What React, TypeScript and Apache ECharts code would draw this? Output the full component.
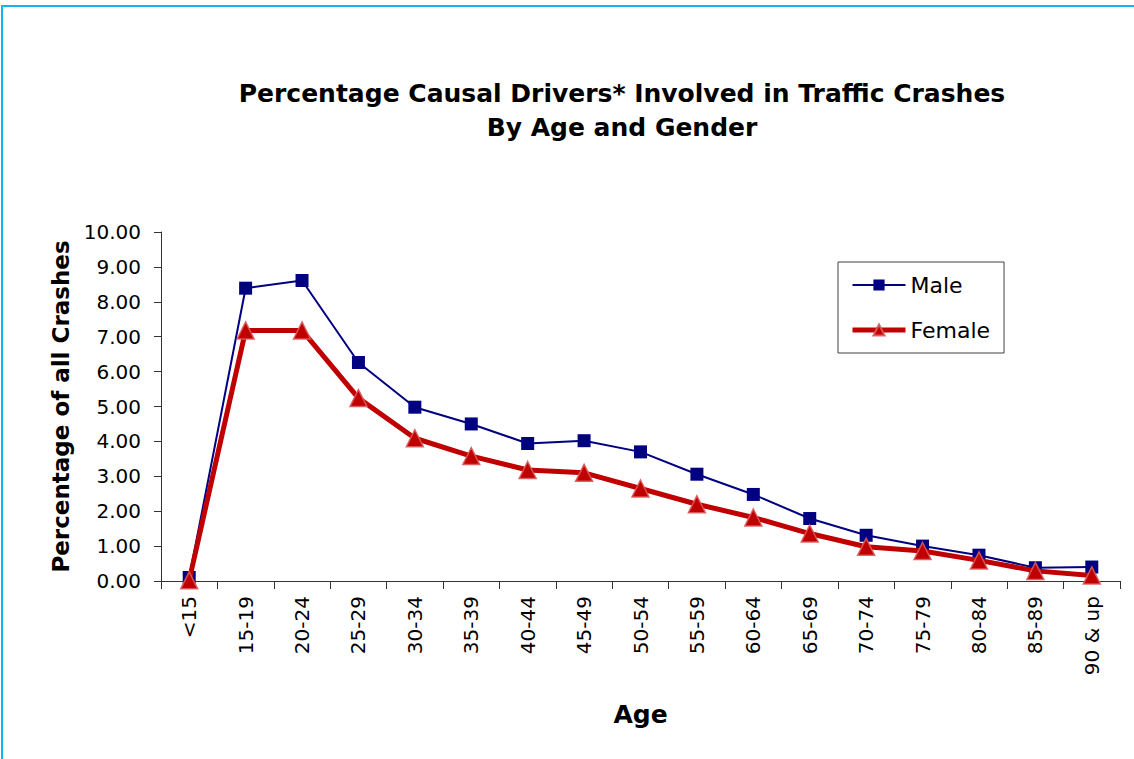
import React, { useEffect, useRef } from "react";
import * as echarts from "echarts";

const ageGroups = ["<15", "15-19", "20-24", "25-29", "30-34", "35-39", "40-44", "45-49", "50-54", "55-59", "60-64", "65-69", "70-74", "75-79", "80-84", "85-89", "90 & up"];
const maleValues = [0.1, 8.39, 8.61, 6.26, 4.98, 4.5, 3.94, 4.02, 3.7, 3.06, 2.48, 1.79, 1.31, 1.0, 0.74, 0.38, 0.4];
const femaleValues = [0.02, 7.18, 7.18, 5.24, 4.09, 3.58, 3.18, 3.1, 2.65, 2.2, 1.82, 1.36, 0.98, 0.86, 0.59, 0.29, 0.16];
const titleLines = ["Percentage Causal Drivers* Involved in Traffic Crashes", "By Age and Gender"];
const yAxisTitle = "Percentage of all Crashes";
const xAxisTitle = "Age";
const seriesNames = ["Male", "Female"];

const FONT = "'DejaVu Sans', 'Liberation Sans', Arial, sans-serif";

export default function App() {
  const ref = useRef<HTMLDivElement>(null);
  useEffect(() => {
    if (!ref.current) return;
    const chart = echarts.init(ref.current, undefined, { renderer: "svg" });
    chart.setOption({
      animation: false,
      backgroundColor: "#ffffff",
      grid: { left: 161, right: 14, top: 232, bottom: 178, containLabel: false },
      graphic: [
        {
          type: "rect",
          silent: true,
          shape: { x: 2, y: 6, width: 1300, height: 900 },
          style: { fill: "none", stroke: "#12B4EE", lineWidth: 2 },
        },
        {
          type: "text",
          silent: true,
          style: { text: titleLines[0], x: 622, y: 93, textAlign: "center", textVerticalAlign: "middle", font: `bold 25px ${FONT}`, fill: "#000" },
        },
        {
          type: "text",
          silent: true,
          style: { text: titleLines[1], x: 622, y: 127, textAlign: "center", textVerticalAlign: "middle", font: `bold 25px ${FONT}`, fill: "#000" },
        },
      ],
      legend: {
        orient: "vertical",
        left: 838,
        top: 262,
        padding: [12, 14, 12, 12],
        itemGap: 23,
        itemWidth: 53,
        itemHeight: 14,
        borderColor: "#404040",
        borderWidth: 1,
        textStyle: { fontSize: 22, fontFamily: FONT, color: "#000" },
        data: [
          { name: seriesNames[0], lineStyle: { width: 2, color: "#000080" } },
          { name: seriesNames[1], lineStyle: { width: 5, color: "#C00000" } },
        ],
      },
      xAxis: {
        type: "category",
        data: ageGroups,
        boundaryGap: true,
        name: xAxisTitle,
        nameLocation: "middle",
        nameGap: 121,
        nameTextStyle: { fontSize: 25, fontWeight: "bold", fontFamily: FONT, color: "#000" },
        axisLine: { lineStyle: { color: "#333", width: 1 } },
        axisTick: { show: true, interval: 0, length: 8, alignWithLabel: false, lineStyle: { color: "#333" } },
        axisLabel: { interval: 0, rotate: 90, margin: 15, fontSize: 20, fontFamily: FONT, color: "#000" },
        splitLine: { show: false },
      },
      yAxis: {
        type: "value",
        min: 0,
        max: 10,
        interval: 1,
        name: yAxisTitle,
        nameLocation: "middle",
        nameGap: 88,
        nameTextStyle: { fontSize: 23, fontWeight: "bold", fontFamily: FONT, color: "#000" },
        axisLine: { show: true, lineStyle: { color: "#333", width: 1 } },
        axisTick: { show: true, length: 7, inside: false, lineStyle: { color: "#333" } },
        axisLabel: { margin: 20, fontSize: 20, fontFamily: FONT, color: "#000", formatter: (v: number) => v.toFixed(2) },
        splitLine: { show: false },
      },
      series: [
        {
          name: seriesNames[0],
          type: "line",
          data: maleValues,
          symbol: "rect",
          symbolSize: 13,
          color: "#000080",
          lineStyle: { color: "#000080", width: 2 },
          itemStyle: { color: "#000080" },
          z: 2,
        },
        {
          name: seriesNames[1],
          type: "line",
          data: femaleValues,
          symbol: "triangle",
          symbolSize: 17,
          color: "#C00000",
          lineStyle: { color: "#C00000", width: 5 },
          itemStyle: { color: "#C00000", borderColor: "rgba(220,90,90,0.9)", borderWidth: 1.5 },
          z: 3,
        },
      ],
    });
    return () => chart.dispose();
  }, []);
  return (
    <div style={{ position: "fixed", left: 0, top: 0, width: 1134, height: 759, background: "#fff" }}>
      <div ref={ref} style={{ width: 1134, height: 759 }} />
    </div>
  );
}
